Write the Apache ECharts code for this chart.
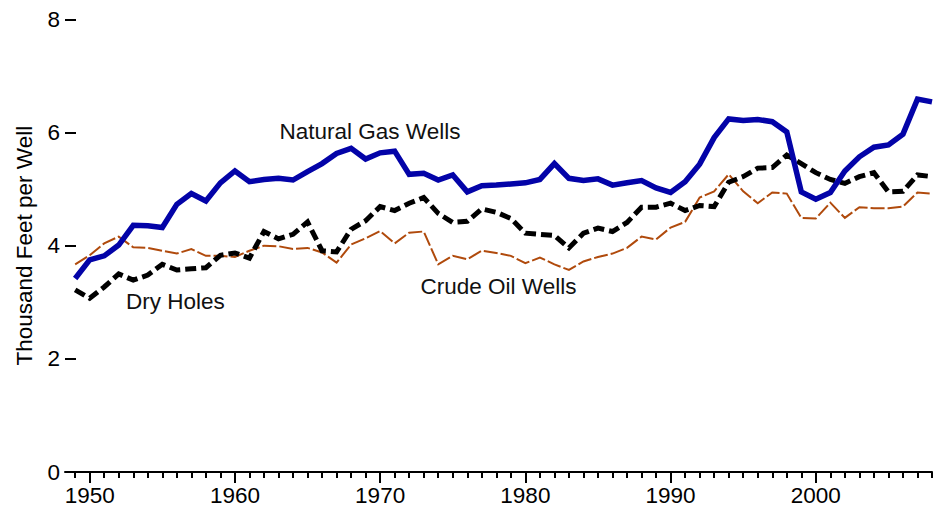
<!DOCTYPE html>
<html>
<head>
<meta charset="utf-8">
<script src="https://cdn.jsdelivr.net/npm/echarts@6/dist/echarts.min.js"></script>
<style>
html,body{margin:0;padding:0;background:#fff;}
#chart{width:947px;height:513px;}
</style>
</head>
<body>
<div id="chart"></div>
<script>
// ---- Data ----
var years = [];
for (var y = 1949; y <= 2008; y++) years.push(y);

var naturalGas = [
  3.42, 3.75, 3.82, 4.01, 4.36, 4.35, 4.32, 4.73, 4.92, 4.79,
  5.11, 5.32, 5.13, 5.17, 5.19, 5.16, 5.31, 5.45, 5.63, 5.72,
  5.53, 5.64, 5.67, 5.26, 5.28, 5.16, 5.25, 4.95, 5.06, 5.07,
  5.09, 5.11, 5.17, 5.45, 5.19, 5.15, 5.18, 5.07, 5.11, 5.15,
  5.02, 4.94, 5.13, 5.44, 5.91, 6.24, 6.21, 6.23, 6.19, 6.01,
  4.95, 4.82, 4.94, 5.32, 5.57, 5.74, 5.78, 5.97, 6.59, 6.54
];
var crudeOil = [
  3.67, 3.83, 4.04, 4.16, 3.97, 3.96, 3.91, 3.86, 3.94, 3.82,
  3.82, 3.80, 3.91, 4.00, 3.99, 3.94, 3.96, 3.88, 3.70, 4.02,
  4.13, 4.26, 4.04, 4.23, 4.25, 3.67, 3.82, 3.76, 3.91, 3.87,
  3.82, 3.69, 3.79, 3.67, 3.57, 3.72, 3.80, 3.86, 3.96, 4.16,
  4.11, 4.32, 4.42, 4.85, 4.96, 5.26, 4.96, 4.75, 4.94, 4.92,
  4.49, 4.48, 4.76, 4.49, 4.68, 4.66, 4.66, 4.69, 4.94, 4.92
];
var dryHoles = [
  3.22, 3.07, 3.27, 3.50, 3.39, 3.48, 3.67, 3.57, 3.59, 3.61,
  3.83, 3.87, 3.78, 4.25, 4.12, 4.20, 4.42, 3.91, 3.89, 4.29,
  4.44, 4.69, 4.62, 4.75, 4.85, 4.57, 4.41, 4.43, 4.65, 4.59,
  4.48, 4.22, 4.20, 4.18, 3.96, 4.22, 4.31, 4.25, 4.41, 4.68,
  4.68, 4.75, 4.62, 4.71, 4.69, 5.12, 5.22, 5.37, 5.38, 5.60,
  5.45, 5.29, 5.17, 5.10, 5.22, 5.29, 4.95, 4.96, 5.25, 5.22
];

var majorTicks = [1950, 1960, 1970, 1980, 1990, 2000];
var minorTicks = years.slice();
var yTicks = [0, 2, 4, 6, 8];

var annotations = [
  {text: 'Natural Gas Wells', x: 1969.3, y: 6.02},
  {text: 'Dry Holes', x: 1955.9, y: 3.02},
  {text: 'Crude Oil Wells', x: 1978.15, y: 3.28}
];

function pairs(vals) {
  return years.map(function (yr, i) { return [yr, vals[i]]; });
}

var FONT = 'Liberation Sans, Arial, Helvetica, sans-serif';
var FS = 22.5;
var chart = echarts.init(document.getElementById('chart'), null, {renderer: 'svg'});

var option = {
  backgroundColor: '#ffffff',
  animation: false,
  grid: {left: 65, right: 15, top: 19.3, bottom: 41, containLabel: false},
  xAxis: [
    {
      type: 'value', min: 1948.3, max: 2008, position: 'bottom',
      axisLine: {show: true, lineStyle: {color: '#000', width: 2}},
      axisTick: {show: true, customValues: majorTicks, length: 11, lineStyle: {color: '#000', width: 2}},
      axisLabel: {show: true, customValues: majorTicks, margin: 12, color: '#000', fontSize: FS, fontFamily: FONT,
        formatter: function (v) { return String(Math.round(v)); }},
      splitLine: {show: false}
    },
    {
      type: 'value', min: 1948.3, max: 2008, position: 'bottom', gridIndex: 0,
      axisLine: {show: false},
      axisTick: {show: true, customValues: minorTicks, length: 6, lineStyle: {color: '#000', width: 2}},
      axisLabel: {show: false},
      splitLine: {show: false}
    }
  ],
  yAxis: {
    type: 'value', min: 0, max: 8, interval: 2,
    name: 'Thousand Feet per Well', nameLocation: 'middle', nameGap: 29,
    nameTextStyle: {color: '#000', fontSize: FS, fontFamily: FONT},
    axisLine: {show: false},
    axisTick: {show: true, inside: true, length: 11, lineStyle: {color: '#000', width: 2}},
    axisLabel: {show: true, margin: 5, color: '#000', fontSize: FS, fontFamily: FONT},
    splitLine: {show: false}
  },
  series: [
    {
      name: 'Crude Oil Wells', type: 'line', data: pairs(crudeOil), showSymbol: false, symbol: 'none',
      lineStyle: {color: '#b04a0c', width: 2, type: [14, 3], join: 'miter'}, z: 2
    },
    {
      name: 'Dry Holes', type: 'line', data: pairs(dryHoles), showSymbol: false, symbol: 'none',
      lineStyle: {color: '#000000', width: 5, type: [11, 5], join: 'miter'}, z: 3
    },
    {
      name: 'Natural Gas Wells', type: 'line', data: pairs(naturalGas), showSymbol: false, symbol: 'none',
      lineStyle: {color: '#0303a8', width: 5.5, join: 'miter'}, z: 4
    }
  ]
};
chart.setOption(option);

var g = annotations.map(function (a) {
  var p = chart.convertToPixel({gridIndex: 0}, [a.x, a.y]);
  return {
    type: 'text', x: p[0], y: p[1], z: 10,
    style: {text: a.text, fill: '#111', fontSize: FS, fontFamily: FONT, align: 'center', verticalAlign: 'middle'}
  };
});
chart.setOption({graphic: g});
</script>
</body>
</html>
